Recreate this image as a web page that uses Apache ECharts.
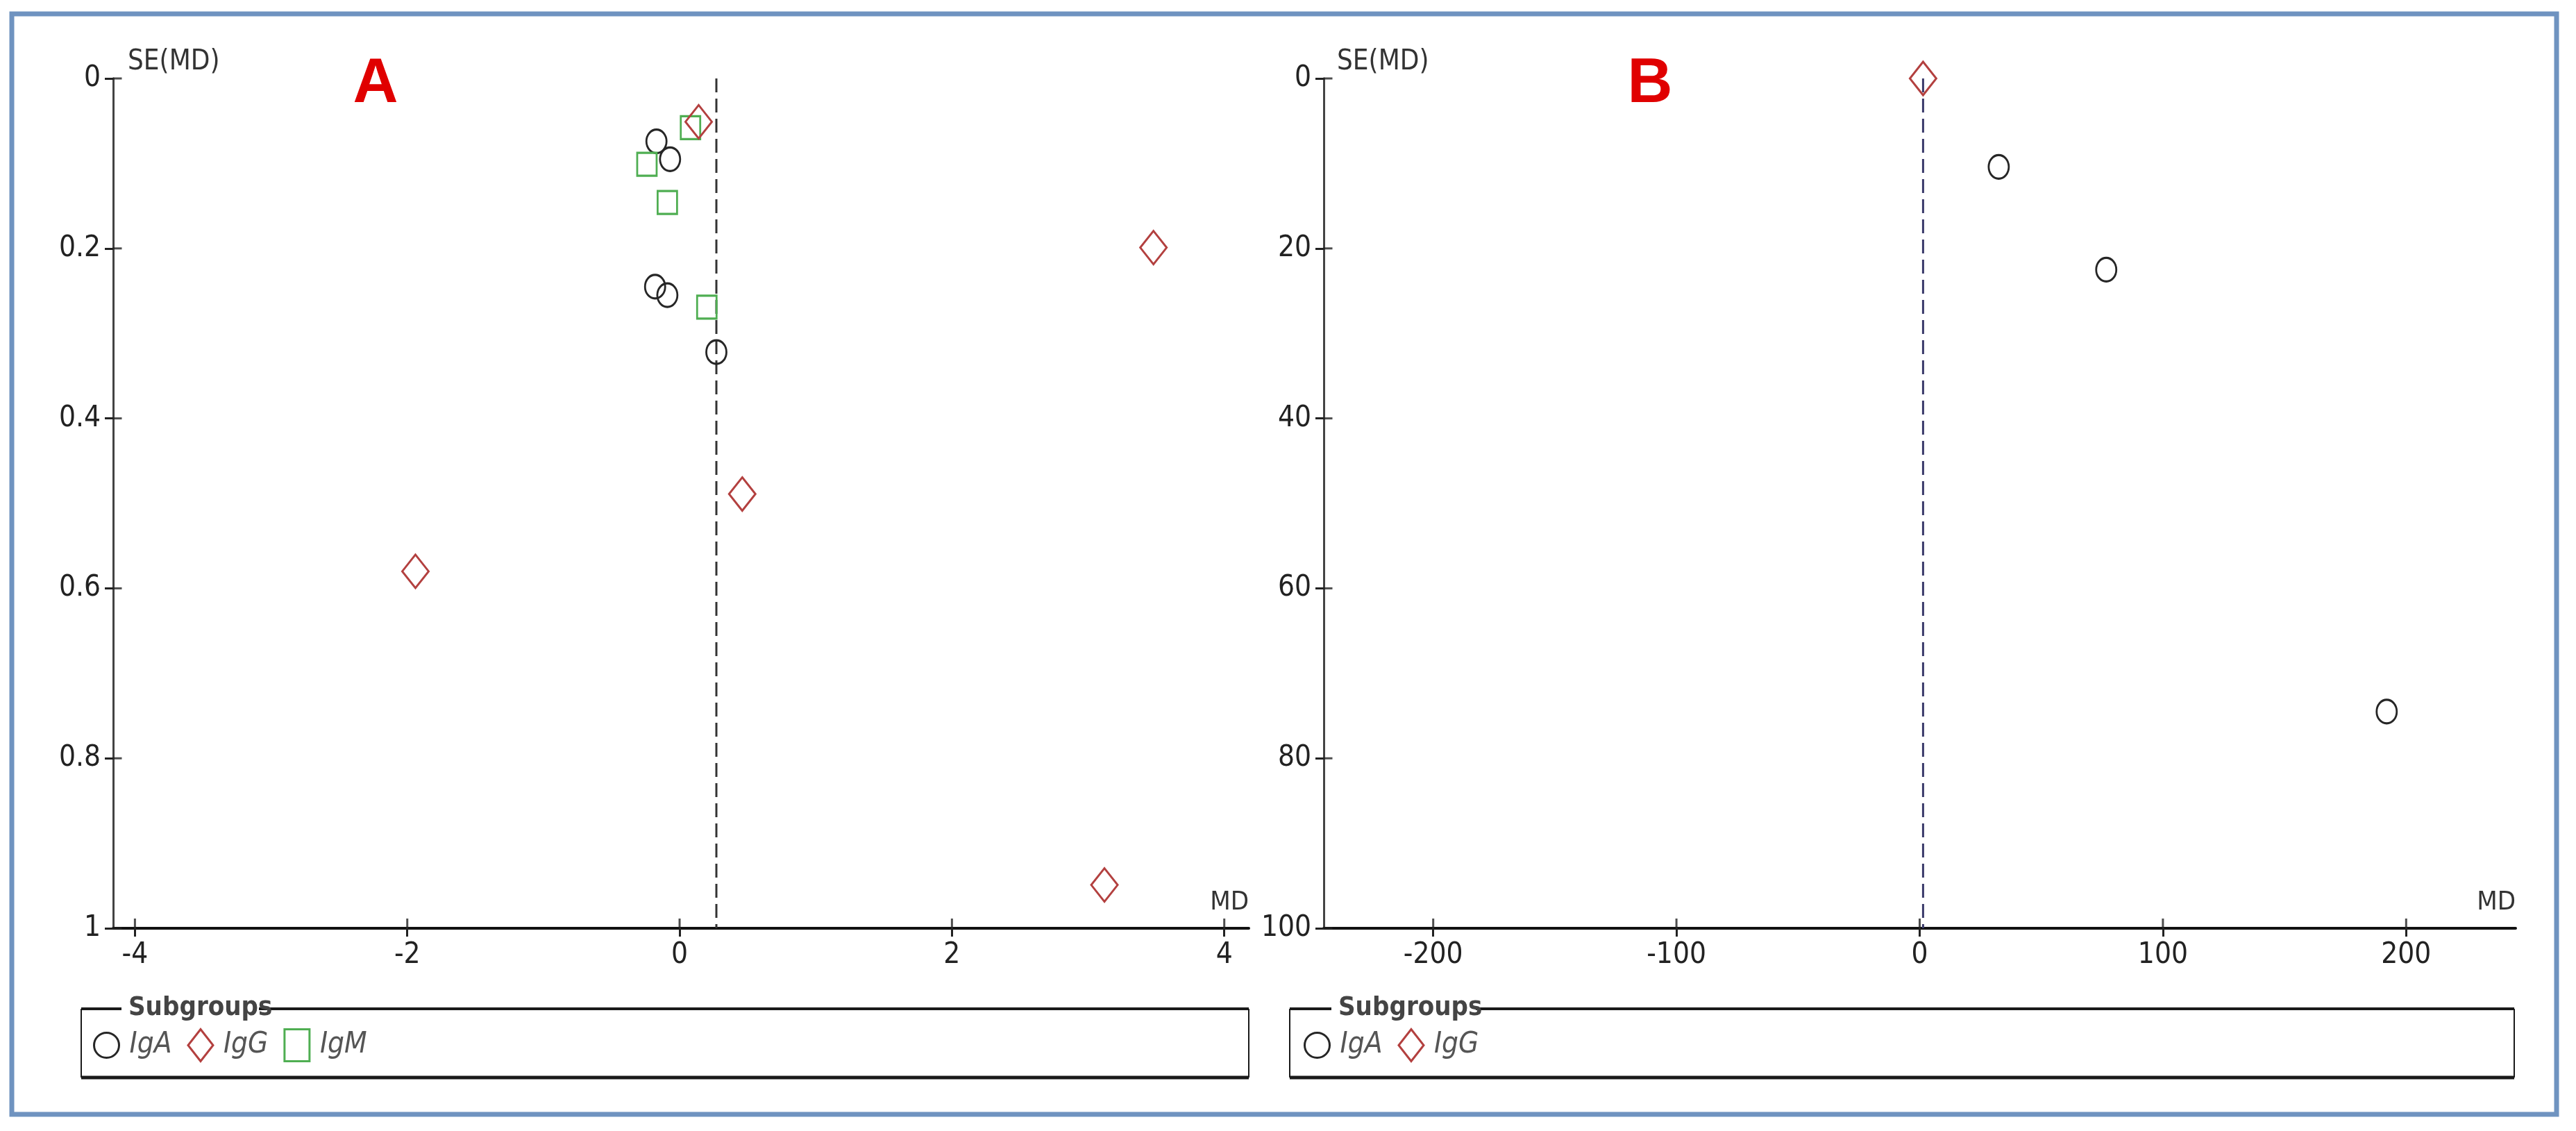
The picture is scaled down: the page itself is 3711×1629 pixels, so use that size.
<!DOCTYPE html>
<html>
<head>
<meta charset="utf-8">
<script src="https://cdn.jsdelivr.net/npm/echarts@6/dist/echarts.min.js"></script>
<style>
html,body{margin:0;padding:0;background:#fff;}
#chart{width:3711px;height:1629px;}
</style>
</head>
<body>
<div id="chart"></div>
<script>
// ---------- Panel A data: [MD, SE(MD)] ----------
const A_IgA = [[-0.17, 0.074], [-0.07, 0.095], [-0.18, 0.245], [-0.09, 0.255], [0.27, 0.322]];
const A_IgG = [[0.14, 0.051], [3.48, 0.199], [0.46, 0.489], [-1.94, 0.580], [3.12, 0.949]];
const A_IgM = [[0.08, 0.058], [-0.24, 0.101], [-0.09, 0.146], [0.20, 0.269]];
const A_pooled = 0.27;
const A_xTicks = [-4, -2, 0, 2, 4];
const A_yTicks = [0, 0.2, 0.4, 0.6, 0.8, 1];

// ---------- Panel B data: [MD, SE(MD)] ----------
const B_IgA = [[32.5, 10.4], [76.7, 22.5], [192, 74.5]];
const B_IgG = [[1.4, 0]];
const B_pooled = 1.4;
const B_xTicks = [-200, -100, 0, 100, 200];
const B_yTicks = [0, 20, 40, 60, 80, 100];

const subgroupsA = ['IgA', 'IgG', 'IgM'];
const subgroupsB = ['IgA', 'IgG'];

const FONT = '"Liberation Sans Narrow","DejaVu Sans Condensed","Liberation Sans",Arial,sans-serif';
const ELLIPSE = 'path://M50,0 A50,50 0 1 1 50,100 A50,50 0 1 1 50,0 Z';
const COL = {IgA: '#262626', IgG: '#b3403f', IgM: '#4fae52'};
const SYM = {IgA: ELLIPSE, IgG: 'diamond', IgM: 'rect'};
const SIZE = {IgA: [29, 34], IgG: [38, 48], IgM: [28, 33]};

const chart = echarts.init(document.getElementById('chart'), null, {renderer: 'canvas'});

function xAxis(grid, min, max, ticks) {
  return {
    type: 'value', gridIndex: grid, min: min, max: max, position: 'bottom',
    splitLine: {show: false},
    axisLine: {show: true, onZero: false, lineStyle: {color: '#111', width: 4}},
    axisTick: {show: true, inside: false, length: 12, customValues: ticks, lineStyle: {color: '#222', width: 3}},
    axisLabel: {show: true, customValues: ticks, margin: 18, fontSize: 42, color: '#222', fontFamily: FONT,
                formatter: v => String(v)}
  };
}
function yAxis(grid, max, interval) {
  return {
    type: 'value', gridIndex: grid, min: 0, max: max, interval: interval, inverse: true, position: 'left',
    splitLine: {show: false},
    axisLine: {show: true, onZero: false, lineStyle: {color: '#444', width: 3}},
    axisTick: {show: true, inside: false, length: 12, lineStyle: {color: '#222', width: 3}},
    axisLabel: {show: true, margin: 18, fontSize: 42, color: '#222', fontFamily: FONT,
                formatter: v => String(v)}
  };
}

// inner halves of the crossing tick marks, placed through the axis scales
function innerTicksY(xMin, yTicks, idx) {
  return {
    type: 'scatter', xAxisIndex: idx, yAxisIndex: idx, silent: true, clip: false,
    data: yTicks.map(v => [xMin, v]), symbol: 'rect', symbolSize: [13, 3], symbolOffset: [6, 0],
    itemStyle: {color: '#222'}, z: 2, emphasis: {disabled: true}
  };
}
function innerTicksX(xTicks, yMax, idx) {
  return {
    type: 'scatter', xAxisIndex: idx, yAxisIndex: idx, silent: true, clip: false,
    data: xTicks.map(v => [v, yMax]), symbol: 'rect', symbolSize: [3, 14], symbolOffset: [0, -7],
    itemStyle: {color: '#222'}, z: 2, emphasis: {disabled: true}
  };
}

function scatter(name, data, idx) {
  return {
    name: name, type: 'scatter', xAxisIndex: idx, yAxisIndex: idx, data: data,
    symbol: SYM[name], symbolSize: SIZE[name], clip: false,
    itemStyle: {color: 'transparent', borderColor: COL[name], borderWidth: 3, opacity: 1},
    emphasis: {disabled: true}, z: 5
  };
}
function pooledLine(md, maxY, idx, color) {
  return {
    name: 'pooled', type: 'line', xAxisIndex: idx, yAxisIndex: idx,
    data: [[md, 0], [md, maxY]], symbol: 'none', silent: true,
    lineStyle: {color: color, width: 3, type: [20, 9]}, z: 3
  };
}
function legendCfg(names, left) {
  return {
    show: true, orient: 'horizontal', left: left, top: 1476, itemGap: 22,
    itemWidth: 36, itemHeight: 46, selectedMode: false,
    textStyle: {fontSize: 42, fontStyle: 'italic', color: '#555', fontFamily: FONT, padding: [0, 0, 0, 10]},
    data: names.map(n => ({
      name: n, icon: SYM[n],
      itemStyle: {color: 'transparent', borderColor: COL[n], borderWidth: 3}
    }))
  };
}
function fieldset(x1, x2, y1, y2, gapStart, gapEnd) {
  const ls = (w) => ({stroke: '#1a1a1a', lineWidth: w});
  return [
    {type: 'line', shape: {x1: x1, y1: y1, x2: gapStart, y2: y1}, style: ls(4)},
    {type: 'line', shape: {x1: gapEnd, y1: y1, x2: x2, y2: y1}, style: ls(4)},
    {type: 'line', shape: {x1: x1, y1: y1, x2: x1, y2: y2}, style: ls(2)},
    {type: 'line', shape: {x1: x2, y1: y1, x2: x2, y2: y2}, style: ls(2)},
    {type: 'line', shape: {x1: x1, y1: y2, x2: x2, y2: y2}, style: ls(5)}
  ];
}
function txt(x, y, text, size, opts) {
  return {type: 'text', style: Object.assign({x: x, y: y, text: text, fontSize: size, fontFamily: FONT,
    fill: '#333', textAlign: 'left', textVerticalAlign: 'middle'}, opts || {})};
}

const A_xMin = -4.16, A_xMax = 4.18, B_xMin = -245, B_xMax = 245;

const option = {
  backgroundColor: '#ffffff',
  animation: false,
  grid: [
    {left: 163, top: 113, width: 1636, height: 1224, containLabel: false},
    {left: 1907, top: 113, width: 1717, height: 1224, containLabel: false}
  ],
  xAxis: [xAxis(0, A_xMin, A_xMax, A_xTicks), xAxis(1, B_xMin, B_xMax, B_xTicks)],
  yAxis: [yAxis(0, 1, 0.2), yAxis(1, 100, 20)],
  legend: [legendCfg(subgroupsA, 129), legendCfg(subgroupsB, 1873)],
  series: [
    innerTicksY(A_xMin, A_yTicks, 0),
    innerTicksX(A_xTicks, 1, 0),
    pooledLine(A_pooled, 1, 0, '#333'),
    scatter('IgA', A_IgA, 0),
    scatter('IgM', A_IgM, 0),
    scatter('IgG', A_IgG, 0),
    innerTicksY(B_xMin, B_yTicks, 1),
    innerTicksX(B_xTicks, 100, 1),
    pooledLine(B_pooled, 100, 1, '#3a3a6a'),
    scatter('IgA', B_IgA, 1),
    scatter('IgG', B_IgG, 1)
  ],
  graphic: [].concat(
    [{type: 'rect', shape: {x: 17, y: 20, width: 3666, height: 1585}, style: {fill: 'none', stroke: '#6f93c0', lineWidth: 7}}],
    [txt(184, 90, 'SE(MD)', 40), txt(1926, 90, 'SE(MD)', 40)],
    [txt(1799, 1300, 'MD', 38, {textAlign: 'right'}), txt(3624, 1300, 'MD', 38, {textAlign: 'right'})],
    [txt(541, 122, 'A', 90, {textAlign: 'center', fill: '#e00000', fontWeight: 'bold', fontFamily: '"Liberation Sans",Arial,sans-serif'}),
     txt(2377, 122, 'B', 90, {textAlign: 'center', fill: '#e00000', fontWeight: 'bold', fontFamily: '"Liberation Sans",Arial,sans-serif'})],
    fieldset(117, 1799, 1453, 1552, 175, 373),
    fieldset(1858, 3622, 1453, 1552, 1918, 2126),
    [txt(185, 1452, 'Subgroups', 38, {fontWeight: 'bold', fill: '#444'}),
     txt(1928, 1452, 'Subgroups', 38, {fontWeight: 'bold', fill: '#444'})]
  )
};
chart.setOption(option);
</script>
</body>
</html>
